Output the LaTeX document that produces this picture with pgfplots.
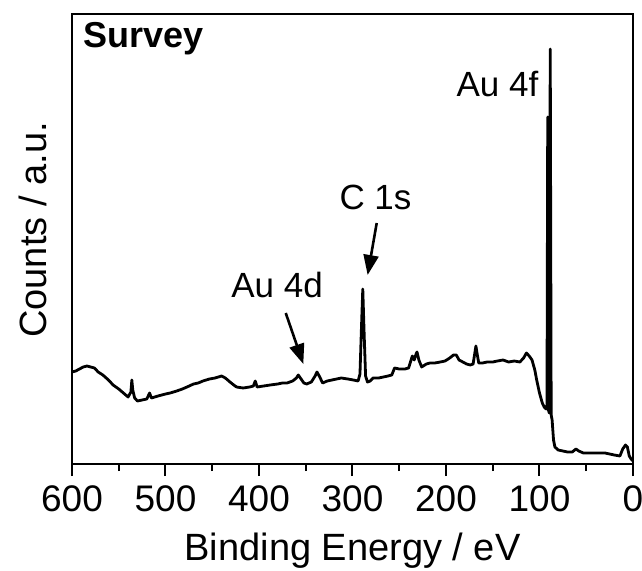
\documentclass[border=0pt]{standalone}
\usepackage{fontspec}
\setmainfont{Liberation Sans}
\usepackage{pgfplots}
\pgfplotsset{compat=1.18}
\usetikzlibrary{arrows.meta}

% XPS survey spectrum (binding energy in eV, intensity in arbitrary units)
\pgfplotstableread{
E I
600 92
596 93
592 95
588 97
584 98
580 97
576 96
572 92
567 89
561 84
556 79
550 75
545 71
540 67
537 72
536 84
535 74
533 66
530 63
525 64
520 65
517 71
515 66
508 68
500 70
495 71
488 73
482 75
477 77
470 80
465 81
460 83
453 85
447 86
440 88
436 86
431 82
427 79
424 77
417 76
410 77
406 78
404 83
402 77
395 78
388 79
380 80
375 81
370 81
364 83
360 86
358 89
355 85
352 81
349 80
344 82
340 88
338 92
335 87
332 81
327 83
322 84
317 85
312 86
305 85
299 84
294 83
292 90
290.5 134
289 175
287.5 129
286 88
284 82
281 83
278 86
272 86
267 87
262 88
258 89
255 96
250 95
244 95
240 96
236 108
234 104
232 110
231 112
229 104
226 97
221 100
217 101
212 101
206 102
201 103
196 106
192 109
189 109
186 104
182 102
178 100
174 99
171 100
169 112
168 118
167 112
165 101
161 101
156 102
150 102
145 103
139 104
133 102
127 103
121 102
117 106
114 111
111 108
108 104
105 94
103 84
100 71
97 61
95 57
93 55
92 59
91.2 347
90.4 54
89.6 51
88.5 415
87.5 49
86.5 44
85 24
83.5 17
80 14
75 13
70 12
65 12
61 15
58 13
53 11
45 11
38 11
30 11
25 10
20 9
14 8
11 15
8 19
6 17
4 8
2 5
0 3
}\survey

\begin{document}
\begin{tikzpicture}
\begin{axis}[
  at={(0pt,0pt)}, anchor=south west,
  scale only axis,
  width=561pt, height=450pt,
  xmin=0, xmax=600, ymin=0, ymax=450,
  x dir=reverse,
  axis line style={line width=2pt},
  xtick={0,100,...,600},
  minor xtick={50,150,...,550},
  xtick pos=bottom,
  tick align=outside,
  major tick length=12pt,
  minor tick length=7pt,
  every tick/.style={line width=2pt, black},
  ytick=\empty,
  /pgf/number format/assume math mode=true,
  xticklabel style={font=\fontsize{37}{44}\selectfont, inner sep=0pt, yshift=-9pt},
  xlabel={Binding Energy / eV},
  ylabel={Counts / a.u.},
  label style={font=\fontsize{38}{46}\selectfont},
  xlabel style={at={([yshift=-96pt]rel axis cs:0.5,0)}, anchor=base},
  ylabel style={at={([xshift=-25pt]rel axis cs:0,0.52)}, anchor=base},
  clip=true,
]
\addplot[black, line width=2.8pt, line join=round] table[x=E, y=I] {\survey};

\node[anchor=base west, inner sep=0pt, font=\fontsize{36}{43}\selectfont\bfseries]
  at (axis cs:588,416) {Survey};
\node[anchor=base, font=\fontsize{35}{42}\selectfont]
  at (axis cs:145,367) {Au 4f};
\node[anchor=base, font=\fontsize{35}{42}\selectfont]
  at (axis cs:275.4,254) {C 1s};
\node[anchor=base, font=\fontsize{35}{42}\selectfont]
  at (axis cs:380.7,166) {Au 4d};
\draw[line width=2.6pt, -{Triangle[length=20pt,width=15pt]}]
  (axis cs:274.1,241) -- (axis cs:283.8,189);
\draw[line width=2.6pt, -{Triangle[length=20pt,width=15pt]}]
  (axis cs:371.4,151) -- (axis cs:352.6,100);
\end{axis}
\pgfresetboundingbox
\useasboundingbox (-72pt,-106pt) rectangle (570pt,464pt);
\end{tikzpicture}
\end{document}
